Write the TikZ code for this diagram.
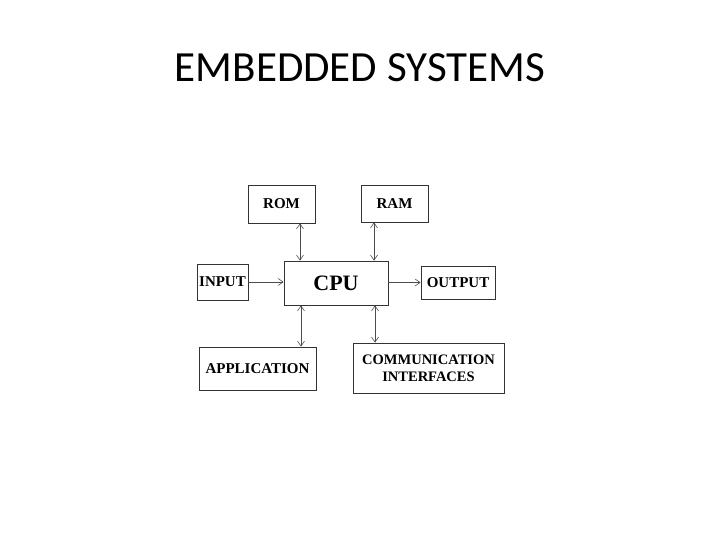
\documentclass[tikz,border=0pt]{standalone}
\usepackage{fontspec}
\setmainfont{Liberation Serif}
\newfontfamily\titlefont{Carlito}
\usetikzlibrary{arrows.meta}
\begin{document}
\begin{tikzpicture}[x=1pt,y=-1pt,
  blk/.style={draw=black!80,line width=0.8pt,inner sep=0pt,font=\fontsize{15}{16}\selectfont\bfseries,align=center},
  con/.style={draw=black!70,line width=0.6pt,arrows={-Straight Barb[length=5pt,width=7pt]}}]
\useasboundingbox (0,0) rectangle (720,540);
\node[font=\titlefont\fontsize{43}{46}\selectfont] (title) at (360,68) {EMBEDDED SYSTEMS};
\node[blk,minimum width=67pt,minimum height=38pt] (rom) at (281.5,204) {ROM};
\node[blk,minimum width=67pt,minimum height=37pt] (ram) at (394.5,203.5) {RAM};
\node[blk,minimum width=51pt,minimum height=36pt] (inp) at (222.5,282) {INPUT};
\node[blk,minimum width=104pt,minimum height=44pt,font=\fontsize{22}{24}\selectfont\bfseries] (cpu) at (336,283) {CPU};
\node[blk,minimum width=74pt,minimum height=33pt] (out) at (458,282.5) {OUTPUT};
\node[blk,minimum width=117pt,minimum height=43pt] (app) at (257.5,368.5) {APPLICATION};
\node[blk,minimum width=151pt,minimum height=50pt,font=\fontsize{14.5}{17}\selectfont\bfseries] (com) at (428.5,368) {COMMUNICATION\\INTERFACES};
\draw[con,arrows={Straight Barb[length=5pt,width=7pt]-Straight Barb[length=5pt,width=7pt]}] (rom.south -| 300,0) -- (cpu.north -| 300,0);
\draw[con,arrows={Straight Barb[length=5pt,width=7pt]-Straight Barb[length=5pt,width=7pt]}] (ram.south -| 374,0) -- (cpu.north -| 374,0);
\draw[con] (inp) -- (cpu.west |- inp);
\draw[con] (cpu.east |- out) -- (out);
\draw[con,arrows={Straight Barb[length=5pt,width=7pt]-Straight Barb[length=5pt,width=7pt]}] (cpu.south -| 301,0) -- (app.north -| 301,0);
\draw[con,arrows={Straight Barb[length=5pt,width=7pt]-Straight Barb[length=5pt,width=7pt]}] (cpu.south -| 375,0) -- (com.north -| 375,0);
\end{tikzpicture}
\end{document}
